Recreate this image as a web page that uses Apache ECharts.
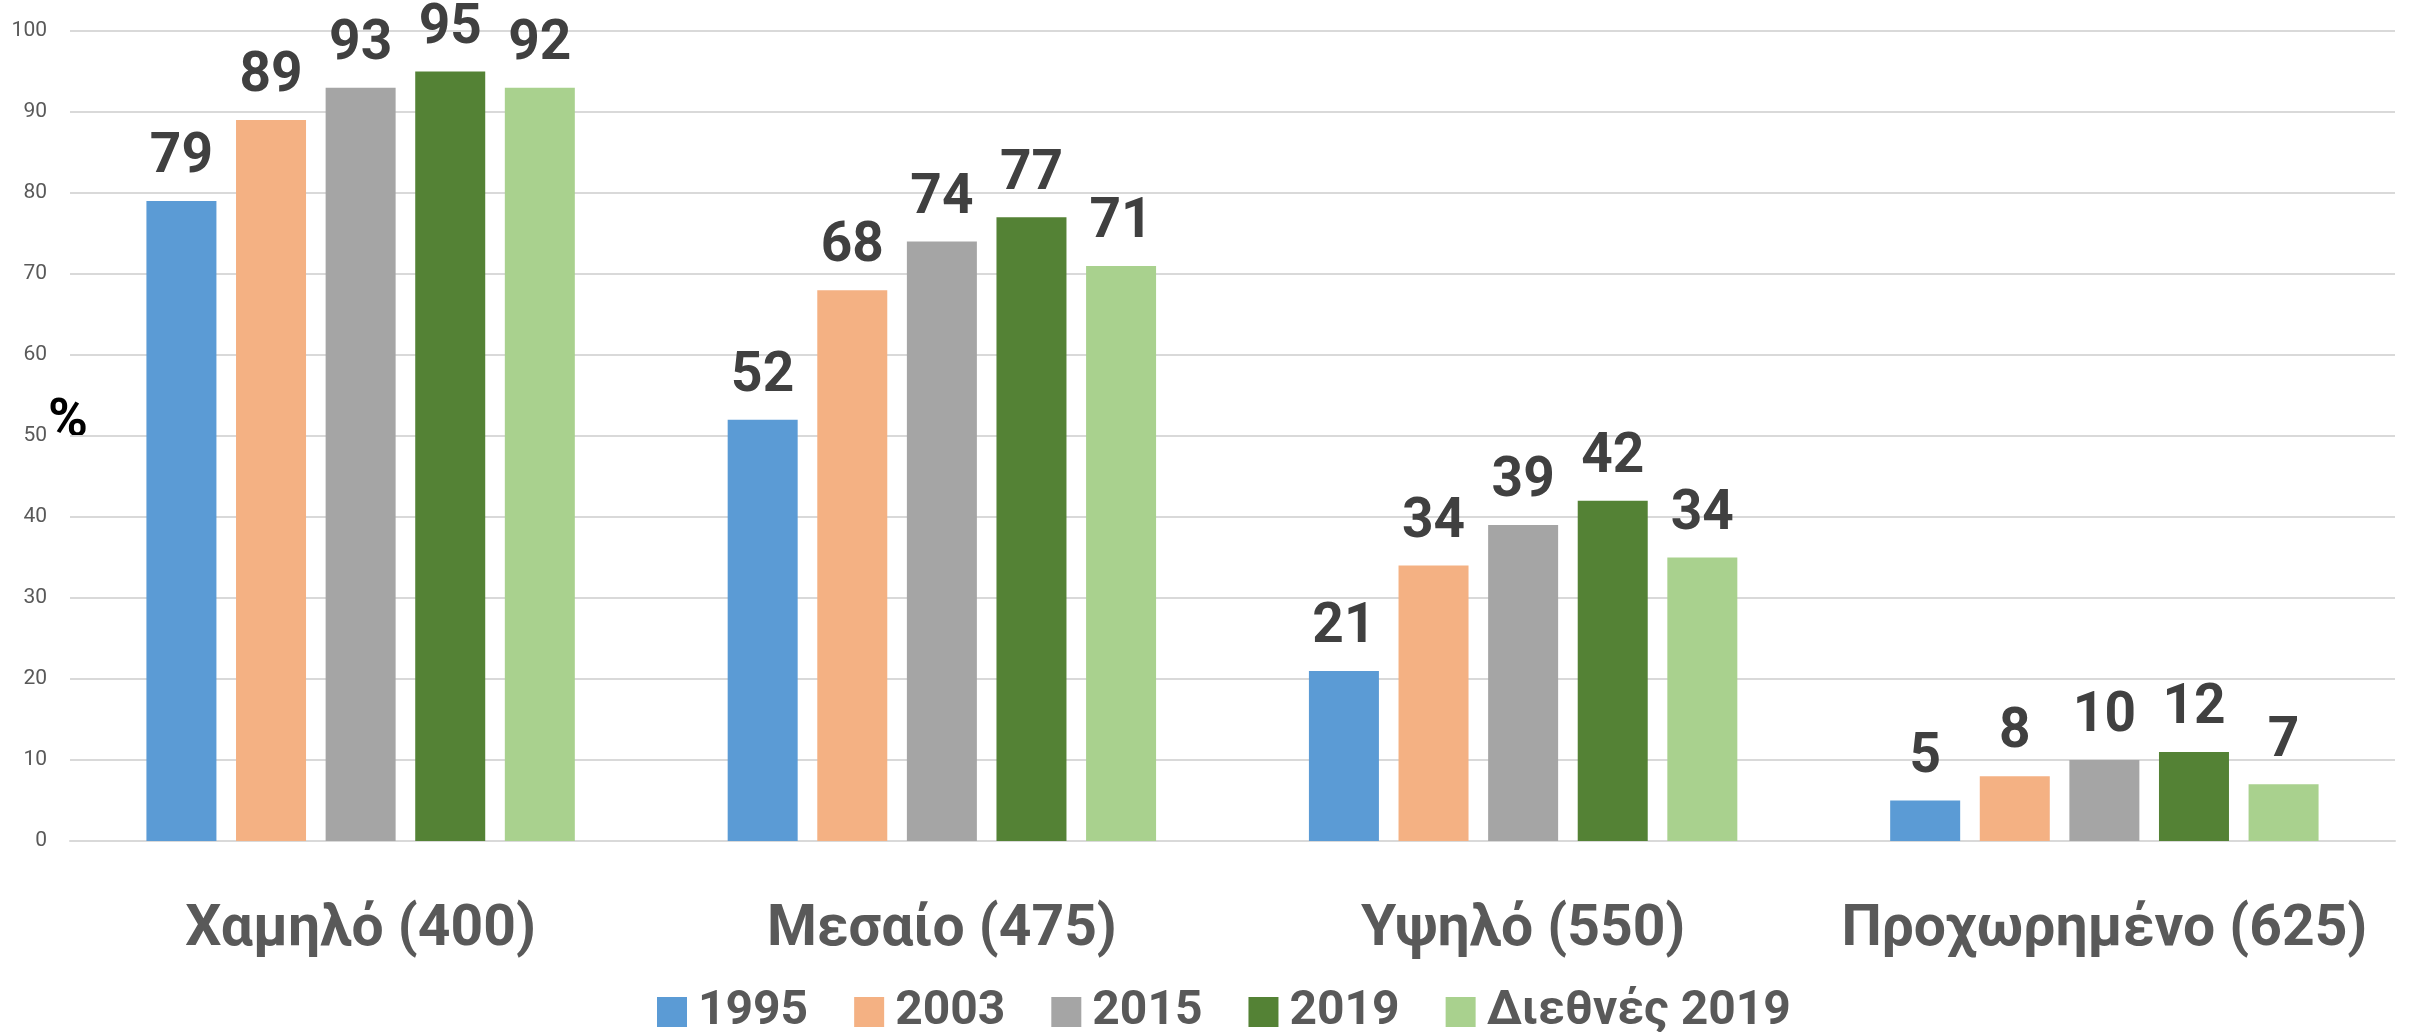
<!DOCTYPE html>
<html>
<head>
<meta charset="utf-8">
<script src="https://cdn.jsdelivr.net/npm/echarts@6/dist/echarts.min.js"></script>
<style>
html,body{margin:0;padding:0;background:#fff;}
#chart{width:2410px;height:1032px;}
</style>
</head>
<body>
<div id="chart"></div>
<script>
const categories = ['Χαμηλό (400)', 'Μεσαίο (475)', 'Υψηλό (550)', 'Προχωρημένο (625)'];
const seriesNames = ['1995', '2003', '2015', '2019', 'Διεθνές 2019'];
const v1995 = [79, 52, 21, 5];
const v2003 = [89, 68, 34, 8];
const v2015 = [93, 74, 39, 10];
const v2019 = [95, 77, 42, 11];
const vIntl = [93, 71, 35, 7];
const l1995 = [79, 52, 21, 5];
const l2003 = [89, 68, 34, 8];
const l2015 = [93, 74, 39, 10];
const l2019 = [95, 77, 42, 12];
const lIntl = [92, 71, 34, 7];
const yTicks = [0, 10, 20, 30, 40, 50, 60, 70, 80, 90, 100];

const colors = ['#5b9bd5', '#f4b183', '#a5a5a5', '#548235', '#a9d18e'];
const values = [v1995, v2003, v2015, v2019, vIntl];
const labels = [l1995, l2003, l2015, l2019, lIntl];

const chart = echarts.init(document.getElementById('chart'));
chart.setOption({
  animation: false,
  backgroundColor: '#ffffff',
  grid: { left: 70, right: 15, top: 31, bottom: 191, containLabel: false },
  xAxis: {
    type: 'category',
    data: categories,
    axisLine: { show: true, lineStyle: { color: '#d9d9d9', width: 2 } },
    axisTick: { show: false },
    axisLabel: {
      interval: 0,
      color: '#595959', fontFamily: 'Roboto', fontWeight: 'bold', fontSize: 57, margin: 61
    }
  },
  yAxis: {
    type: 'value',
    min: yTicks[0],
    max: yTicks[yTicks.length - 1],
    interval: 10,
    axisLine: { show: false },
    axisTick: { show: false },
    splitLine: { lineStyle: { color: '#d9d9d9', width: 2 } },
    axisLabel: { color: '#595959', fontFamily: 'Roboto', fontSize: 21, margin: 23 }
  },
  legend: {
    data: seriesNames,
    bottom: -9,
    left: 652,
    icon: 'rect',
    itemWidth: 30,
    itemHeight: 30,
    itemGap: 46,
    textStyle: { color: '#595959', fontFamily: 'Roboto', fontWeight: 'bold', fontSize: 48, padding: [0, 0, 0, 6] }
  },
  graphic: [{
    type: 'text', left: 48, top: 395,
    style: { text: '%', fill: '#000000', font: 'bold 54px Roboto' }
  }],
  series: seriesNames.map((name, i) => ({
    name: name,
    type: 'bar',
    barWidth: 70,
    barGap: '28%',
    itemStyle: { color: colors[i] },
    data: values[i],
    label: {
      show: true,
      position: 'top',
      distance: 15,
      color: '#404040',
      fontFamily: 'Roboto',
      fontWeight: 'bold',
      fontSize: 55,
      formatter: (p) => String(labels[i][p.dataIndex])
    }
  }))
});
</script>
</body>
</html>
